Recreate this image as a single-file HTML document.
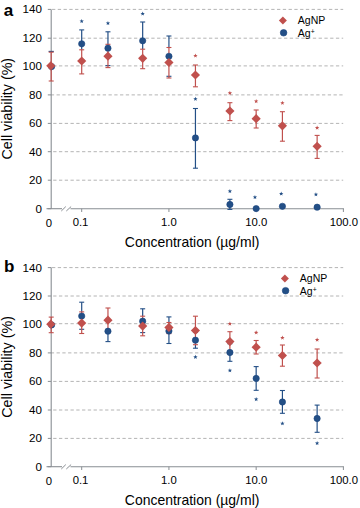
<!DOCTYPE html>
<html><head><meta charset="utf-8"><style>
html,body{margin:0;padding:0;background:#fff;}
svg{display:block;}
text{font-family:"Liberation Sans",sans-serif;fill:#000000;}
</style></head><body>
<svg width="360" height="508" viewBox="0 0 360 508">
<rect width="360" height="508" fill="#fff"/>
<line x1="53.2" y1="180.20" x2="343.2" y2="180.20" stroke="#b4b4b4" stroke-width="1" stroke-dasharray="3.3 2.47"/>
<line x1="53.2" y1="151.70" x2="343.2" y2="151.70" stroke="#b4b4b4" stroke-width="1" stroke-dasharray="3.3 2.47"/>
<line x1="53.2" y1="123.40" x2="343.2" y2="123.40" stroke="#b4b4b4" stroke-width="1" stroke-dasharray="3.3 2.47"/>
<line x1="50.8" y1="94.90" x2="343.2" y2="94.90" stroke="#b4b4b4" stroke-width="1" stroke-dasharray="3.3 2.47"/>
<line x1="53.2" y1="65.90" x2="343.2" y2="65.90" stroke="#b4b4b4" stroke-width="1" stroke-dasharray="3.3 2.47"/>
<line x1="53.2" y1="38.20" x2="343.2" y2="38.20" stroke="#b4b4b4" stroke-width="1" stroke-dasharray="3.3 2.47"/>
<line x1="52.0" y1="9.40" x2="343.2" y2="9.40" stroke="#b4b4b4" stroke-width="1" stroke-dasharray="3.3 2.47"/>
<line x1="51.2" y1="9.40" x2="51.2" y2="208.70" stroke="#898e93" stroke-width="1.1"/>
<line x1="47.8" y1="208.70" x2="51.2" y2="208.70" stroke="#898e93" stroke-width="1"/>
<text transform="translate(41.9,212.70) scale(1.055,1)" text-anchor="end" font-size="11">0</text>
<line x1="47.8" y1="180.20" x2="51.2" y2="180.20" stroke="#898e93" stroke-width="1"/>
<text transform="translate(41.9,184.20) scale(1.055,1)" text-anchor="end" font-size="11">20</text>
<line x1="47.8" y1="151.70" x2="51.2" y2="151.70" stroke="#898e93" stroke-width="1"/>
<text transform="translate(41.9,155.70) scale(1.055,1)" text-anchor="end" font-size="11">40</text>
<line x1="47.8" y1="123.40" x2="51.2" y2="123.40" stroke="#898e93" stroke-width="1"/>
<text transform="translate(41.9,127.40) scale(1.055,1)" text-anchor="end" font-size="11">60</text>
<line x1="47.8" y1="94.90" x2="51.2" y2="94.90" stroke="#898e93" stroke-width="1"/>
<text transform="translate(41.9,98.90) scale(1.055,1)" text-anchor="end" font-size="11">80</text>
<line x1="47.8" y1="65.90" x2="51.2" y2="65.90" stroke="#898e93" stroke-width="1"/>
<text transform="translate(41.9,69.90) scale(1.055,1)" text-anchor="end" font-size="11">100</text>
<line x1="47.8" y1="38.20" x2="51.2" y2="38.20" stroke="#898e93" stroke-width="1"/>
<text transform="translate(41.9,42.20) scale(1.055,1)" text-anchor="end" font-size="11">120</text>
<line x1="47.8" y1="9.40" x2="51.2" y2="9.40" stroke="#898e93" stroke-width="1"/>
<text transform="translate(41.9,13.40) scale(1.055,1)" text-anchor="end" font-size="11">140</text>
<line x1="46.5" y1="208.70" x2="62" y2="208.70" stroke="#898e93" stroke-width="1.1"/>
<line x1="70.5" y1="208.70" x2="343.9" y2="208.70" stroke="#898e93" stroke-width="1.1"/>
<line x1="61.3" y1="211.00" x2="65.8" y2="206.60" stroke="#898e93" stroke-width="1"/>
<line x1="66.3" y1="211.00" x2="71.1" y2="206.60" stroke="#898e93" stroke-width="1"/>
<line x1="81.70" y1="208.70" x2="81.70" y2="212.00" stroke="#898e93" stroke-width="1"/>
<text transform="translate(80.50,226.10) scale(1.03,1)" text-anchor="middle" font-size="11">0.1</text>
<line x1="168.93" y1="208.70" x2="168.93" y2="212.00" stroke="#898e93" stroke-width="1"/>
<text transform="translate(168.93,226.10) scale(1.03,1)" text-anchor="middle" font-size="11">1.0</text>
<line x1="256.16" y1="208.70" x2="256.16" y2="212.00" stroke="#898e93" stroke-width="1"/>
<text transform="translate(256.16,226.10) scale(1.03,1)" text-anchor="middle" font-size="11">10.0</text>
<line x1="343.39" y1="208.70" x2="343.39" y2="212.00" stroke="#898e93" stroke-width="1"/>
<text transform="translate(343.89,226.10) scale(1.03,1)" text-anchor="middle" font-size="11">100.0</text>
<text transform="translate(49.00,226.60) scale(1.03,1)" text-anchor="middle" font-size="11">0</text>
<text x="124.8" y="246.60" font-size="14.4" textLength="134.6" lengthAdjust="spacingAndGlyphs">Concentration (µg/ml)</text>
<text transform="translate(11.6,108.70) rotate(-90)" x="0" y="0" text-anchor="middle" font-size="14.3" textLength="101.6" lengthAdjust="spacingAndGlyphs">Cell viability (%)</text>
<text x="3.7" y="15.6" font-size="17" font-weight="bold">a</text>
<polygon points="282.90,16.50 286.90,20.50 282.90,24.50 278.90,20.50" fill="#c0504d"/>
<circle cx="283.60" cy="32.80" r="3.30" fill="#234f86" stroke="#17437e" stroke-width="0.6"/>
<text x="297.80" y="24.00" font-size="10.5">AgNP</text>
<text x="297.80" y="37.30" font-size="10.5">Ag<tspan dy="-3.7" font-size="6.8">+</tspan></text>
<line x1="48.60" y1="51.40" x2="53.80" y2="51.40" stroke="#234f86" stroke-width="1.1"/>
<line x1="81.70" y1="29.90" x2="81.70" y2="49.80" stroke="#234f86" stroke-width="1.2"/><line x1="79.20" y1="29.90" x2="84.20" y2="29.90" stroke="#234f86" stroke-width="1.1"/><line x1="79.20" y1="59.50" x2="84.20" y2="59.50" stroke="#234f86" stroke-width="1.1"/>
<line x1="107.96" y1="31.80" x2="107.96" y2="44.30" stroke="#234f86" stroke-width="1.2"/><line x1="105.46" y1="31.80" x2="110.46" y2="31.80" stroke="#234f86" stroke-width="1.1"/><line x1="105.46" y1="65.60" x2="110.46" y2="65.60" stroke="#234f86" stroke-width="1.1"/>
<line x1="142.67" y1="22.00" x2="142.67" y2="49.20" stroke="#234f86" stroke-width="1.2"/><line x1="140.17" y1="22.00" x2="145.17" y2="22.00" stroke="#234f86" stroke-width="1.1"/><line x1="140.17" y1="59.00" x2="145.17" y2="59.00" stroke="#234f86" stroke-width="1.1"/>
<line x1="168.93" y1="36.00" x2="168.93" y2="47.50" stroke="#234f86" stroke-width="1.2"/><line x1="166.43" y1="36.00" x2="171.43" y2="36.00" stroke="#234f86" stroke-width="1.1"/><line x1="166.43" y1="76.30" x2="171.43" y2="76.30" stroke="#234f86" stroke-width="1.1"/>
<line x1="195.44" y1="108.50" x2="195.44" y2="168.20" stroke="#234f86" stroke-width="1.2"/><line x1="192.94" y1="108.50" x2="197.94" y2="108.50" stroke="#234f86" stroke-width="1.1"/><line x1="192.94" y1="168.20" x2="197.94" y2="168.20" stroke="#234f86" stroke-width="1.1"/>
<line x1="229.90" y1="199.30" x2="229.90" y2="209.40" stroke="#234f86" stroke-width="1.2"/><line x1="227.40" y1="199.30" x2="232.40" y2="199.30" stroke="#234f86" stroke-width="1.1"/><line x1="227.40" y1="209.40" x2="232.40" y2="209.40" stroke="#234f86" stroke-width="1.1"/>
<line x1="51.20" y1="52.20" x2="51.20" y2="81.00" stroke="#c0504d" stroke-width="1.2"/><line x1="48.70" y1="52.20" x2="53.70" y2="52.20" stroke="#c0504d" stroke-width="1.1"/><line x1="48.70" y1="81.00" x2="53.70" y2="81.00" stroke="#c0504d" stroke-width="1.1"/>
<line x1="81.70" y1="49.80" x2="81.70" y2="73.90" stroke="#c0504d" stroke-width="1.2"/><line x1="79.20" y1="49.80" x2="84.20" y2="49.80" stroke="#c0504d" stroke-width="1.1"/><line x1="79.20" y1="73.90" x2="84.20" y2="73.90" stroke="#c0504d" stroke-width="1.1"/>
<line x1="107.96" y1="44.30" x2="107.96" y2="67.60" stroke="#c0504d" stroke-width="1.2"/><line x1="105.46" y1="44.30" x2="110.46" y2="44.30" stroke="#c0504d" stroke-width="1.1"/><line x1="105.46" y1="67.60" x2="110.46" y2="67.60" stroke="#c0504d" stroke-width="1.1"/>
<line x1="142.67" y1="49.20" x2="142.67" y2="68.70" stroke="#c0504d" stroke-width="1.2"/><line x1="140.17" y1="49.20" x2="145.17" y2="49.20" stroke="#c0504d" stroke-width="1.1"/><line x1="140.17" y1="68.70" x2="145.17" y2="68.70" stroke="#c0504d" stroke-width="1.1"/>
<line x1="168.93" y1="47.50" x2="168.93" y2="78.00" stroke="#c0504d" stroke-width="1.2"/><line x1="166.43" y1="47.50" x2="171.43" y2="47.50" stroke="#c0504d" stroke-width="1.1"/><line x1="166.43" y1="78.00" x2="171.43" y2="78.00" stroke="#c0504d" stroke-width="1.1"/>
<line x1="195.44" y1="65.00" x2="195.44" y2="86.80" stroke="#c0504d" stroke-width="1.2"/><line x1="192.94" y1="65.00" x2="197.94" y2="65.00" stroke="#c0504d" stroke-width="1.1"/><line x1="192.94" y1="86.80" x2="197.94" y2="86.80" stroke="#c0504d" stroke-width="1.1"/>
<line x1="229.90" y1="102.70" x2="229.90" y2="120.60" stroke="#c0504d" stroke-width="1.2"/><line x1="227.40" y1="102.70" x2="232.40" y2="102.70" stroke="#c0504d" stroke-width="1.1"/><line x1="227.40" y1="120.60" x2="232.40" y2="120.60" stroke="#c0504d" stroke-width="1.1"/>
<line x1="256.16" y1="110.00" x2="256.16" y2="128.00" stroke="#c0504d" stroke-width="1.2"/><line x1="253.66" y1="110.00" x2="258.66" y2="110.00" stroke="#c0504d" stroke-width="1.1"/><line x1="253.66" y1="128.00" x2="258.66" y2="128.00" stroke="#c0504d" stroke-width="1.1"/>
<line x1="282.42" y1="111.70" x2="282.42" y2="141.20" stroke="#c0504d" stroke-width="1.2"/><line x1="279.92" y1="111.70" x2="284.92" y2="111.70" stroke="#c0504d" stroke-width="1.1"/><line x1="279.92" y1="141.20" x2="284.92" y2="141.20" stroke="#c0504d" stroke-width="1.1"/>
<line x1="317.13" y1="135.40" x2="317.13" y2="158.40" stroke="#c0504d" stroke-width="1.2"/><line x1="314.63" y1="135.40" x2="319.63" y2="135.40" stroke="#c0504d" stroke-width="1.1"/><line x1="314.63" y1="158.40" x2="319.63" y2="158.40" stroke="#c0504d" stroke-width="1.1"/>
<circle cx="51.60" cy="66.60" r="3.15" fill="#234f86" stroke="#17437e" stroke-width="0.6"/>
<circle cx="81.70" cy="43.80" r="3.15" fill="#234f86" stroke="#17437e" stroke-width="0.6"/>
<polygon points="81.70,18.90 82.27,20.42 83.89,20.49 82.62,21.50 83.05,23.06 81.70,22.17 80.35,23.06 80.78,21.50 79.51,20.49 81.13,20.42" fill="#234f86"/>
<circle cx="107.96" cy="48.20" r="3.15" fill="#234f86" stroke="#17437e" stroke-width="0.6"/>
<polygon points="107.96,20.90 108.53,22.42 110.15,22.49 108.88,23.50 109.31,25.06 107.96,24.17 106.61,25.06 107.04,23.50 105.77,22.49 107.39,22.42" fill="#234f86"/>
<circle cx="142.67" cy="40.80" r="3.15" fill="#234f86" stroke="#17437e" stroke-width="0.6"/>
<polygon points="142.67,11.40 143.24,12.92 144.86,12.99 143.59,14.00 144.02,15.56 142.67,14.67 141.32,15.56 141.75,14.00 140.48,12.99 142.10,12.92" fill="#234f86"/>
<circle cx="168.93" cy="56.30" r="3.15" fill="#234f86" stroke="#17437e" stroke-width="0.6"/>
<circle cx="195.44" cy="137.90" r="3.15" fill="#234f86" stroke="#17437e" stroke-width="0.6"/>
<polygon points="195.44,96.70 196.01,98.22 197.63,98.29 196.36,99.30 196.79,100.86 195.44,99.97 194.09,100.86 194.52,99.30 193.25,98.29 194.87,98.22" fill="#234f86"/>
<circle cx="229.90" cy="204.50" r="3.15" fill="#234f86" stroke="#17437e" stroke-width="0.6"/>
<polygon points="229.90,188.90 230.47,190.42 232.09,190.49 230.82,191.50 231.25,193.06 229.90,192.17 228.55,193.06 228.98,191.50 227.71,190.49 229.33,190.42" fill="#234f86"/>
<circle cx="256.16" cy="208.60" r="3.15" fill="#234f86" stroke="#17437e" stroke-width="0.6"/>
<polygon points="254.96,194.90 255.53,196.42 257.15,196.49 255.88,197.50 256.31,199.06 254.96,198.17 253.61,199.06 254.04,197.50 252.77,196.49 254.39,196.42" fill="#234f86"/>
<circle cx="282.42" cy="206.30" r="3.15" fill="#234f86" stroke="#17437e" stroke-width="0.6"/>
<polygon points="281.22,191.40 281.79,192.92 283.41,192.99 282.14,194.00 282.57,195.56 281.22,194.67 279.87,195.56 280.30,194.00 279.03,192.99 280.65,192.92" fill="#234f86"/>
<circle cx="317.13" cy="207.20" r="3.15" fill="#234f86" stroke="#17437e" stroke-width="0.6"/>
<polygon points="315.93,192.20 316.50,193.72 318.12,193.79 316.85,194.80 317.28,196.36 315.93,195.47 314.58,196.36 315.01,194.80 313.74,193.79 315.36,193.72" fill="#234f86"/>
<polygon points="50.80,61.20 55.40,65.80 50.80,70.40 46.20,65.80" fill="#c0504d"/>
<polygon points="81.70,56.40 86.30,61.00 81.70,65.60 77.10,61.00" fill="#c0504d"/>
<polygon points="107.96,51.60 112.56,56.20 107.96,60.80 103.36,56.20" fill="#c0504d"/>
<polygon points="142.67,53.70 147.27,58.30 142.67,62.90 138.07,58.30" fill="#c0504d"/>
<polygon points="168.93,57.90 173.53,62.50 168.93,67.10 164.33,62.50" fill="#c0504d"/>
<polygon points="195.44,70.40 200.04,75.00 195.44,79.60 190.84,75.00" fill="#c0504d"/>
<polygon points="195.44,53.40 196.01,54.92 197.63,54.99 196.36,56.00 196.79,57.56 195.44,56.67 194.09,57.56 194.52,56.00 193.25,54.99 194.87,54.92" fill="#c0504d"/>
<polygon points="229.90,106.40 234.50,111.00 229.90,115.60 225.30,111.00" fill="#c0504d"/>
<polygon points="229.90,90.80 230.47,92.32 232.09,92.39 230.82,93.40 231.25,94.96 229.90,94.07 228.55,94.96 228.98,93.40 227.71,92.39 229.33,92.32" fill="#c0504d"/>
<polygon points="256.16,114.10 260.76,118.70 256.16,123.30 251.56,118.70" fill="#c0504d"/>
<polygon points="256.16,99.00 256.73,100.52 258.35,100.59 257.08,101.60 257.51,103.16 256.16,102.27 254.81,103.16 255.24,101.60 253.97,100.59 255.59,100.52" fill="#c0504d"/>
<polygon points="282.42,121.20 287.02,125.80 282.42,130.40 277.82,125.80" fill="#c0504d"/>
<polygon points="282.42,100.70 282.99,102.22 284.61,102.29 283.34,103.30 283.77,104.86 282.42,103.97 281.07,104.86 281.50,103.30 280.23,102.29 281.85,102.22" fill="#c0504d"/>
<polygon points="317.13,141.70 321.73,146.30 317.13,150.90 312.53,146.30" fill="#c0504d"/>
<polygon points="317.13,125.60 317.70,127.12 319.32,127.19 318.05,128.20 318.48,129.76 317.13,128.87 315.78,129.76 316.21,128.20 314.94,127.19 316.56,127.12" fill="#c0504d"/>
<line x1="53.2" y1="438.40" x2="343.2" y2="438.40" stroke="#b4b4b4" stroke-width="1" stroke-dasharray="3.3 2.47"/>
<line x1="53.2" y1="410.00" x2="343.2" y2="410.00" stroke="#b4b4b4" stroke-width="1" stroke-dasharray="3.3 2.47"/>
<line x1="53.2" y1="381.40" x2="343.2" y2="381.40" stroke="#b4b4b4" stroke-width="1" stroke-dasharray="3.3 2.47"/>
<line x1="50.8" y1="352.90" x2="343.2" y2="352.90" stroke="#b4b4b4" stroke-width="1" stroke-dasharray="3.3 2.47"/>
<line x1="53.2" y1="323.70" x2="343.2" y2="323.70" stroke="#b4b4b4" stroke-width="1" stroke-dasharray="3.3 2.47"/>
<line x1="53.2" y1="296.00" x2="343.2" y2="296.00" stroke="#b4b4b4" stroke-width="1" stroke-dasharray="3.3 2.47"/>
<line x1="52.0" y1="267.60" x2="343.2" y2="267.60" stroke="#b4b4b4" stroke-width="1" stroke-dasharray="3.3 2.47"/>
<line x1="51.2" y1="267.60" x2="51.2" y2="466.70" stroke="#898e93" stroke-width="1.1"/>
<line x1="47.8" y1="466.70" x2="51.2" y2="466.70" stroke="#898e93" stroke-width="1"/>
<text transform="translate(41.9,470.70) scale(1.055,1)" text-anchor="end" font-size="11">0</text>
<line x1="47.8" y1="438.40" x2="51.2" y2="438.40" stroke="#898e93" stroke-width="1"/>
<text transform="translate(41.9,442.40) scale(1.055,1)" text-anchor="end" font-size="11">20</text>
<line x1="47.8" y1="410.00" x2="51.2" y2="410.00" stroke="#898e93" stroke-width="1"/>
<text transform="translate(41.9,414.00) scale(1.055,1)" text-anchor="end" font-size="11">40</text>
<line x1="47.8" y1="381.40" x2="51.2" y2="381.40" stroke="#898e93" stroke-width="1"/>
<text transform="translate(41.9,385.40) scale(1.055,1)" text-anchor="end" font-size="11">60</text>
<line x1="47.8" y1="352.90" x2="51.2" y2="352.90" stroke="#898e93" stroke-width="1"/>
<text transform="translate(41.9,356.90) scale(1.055,1)" text-anchor="end" font-size="11">80</text>
<line x1="47.8" y1="323.70" x2="51.2" y2="323.70" stroke="#898e93" stroke-width="1"/>
<text transform="translate(41.9,327.70) scale(1.055,1)" text-anchor="end" font-size="11">100</text>
<line x1="47.8" y1="296.00" x2="51.2" y2="296.00" stroke="#898e93" stroke-width="1"/>
<text transform="translate(41.9,300.00) scale(1.055,1)" text-anchor="end" font-size="11">120</text>
<line x1="47.8" y1="267.60" x2="51.2" y2="267.60" stroke="#898e93" stroke-width="1"/>
<text transform="translate(41.9,271.60) scale(1.055,1)" text-anchor="end" font-size="11">140</text>
<line x1="46.5" y1="466.70" x2="62" y2="466.70" stroke="#898e93" stroke-width="1.1"/>
<line x1="70.5" y1="466.70" x2="343.9" y2="466.70" stroke="#898e93" stroke-width="1.1"/>
<line x1="61.3" y1="469.00" x2="65.8" y2="464.60" stroke="#898e93" stroke-width="1"/>
<line x1="66.3" y1="469.00" x2="71.1" y2="464.60" stroke="#898e93" stroke-width="1"/>
<line x1="81.70" y1="466.70" x2="81.70" y2="470.00" stroke="#898e93" stroke-width="1"/>
<text transform="translate(80.50,484.10) scale(1.03,1)" text-anchor="middle" font-size="11">0.1</text>
<line x1="168.93" y1="466.70" x2="168.93" y2="470.00" stroke="#898e93" stroke-width="1"/>
<text transform="translate(168.93,484.10) scale(1.03,1)" text-anchor="middle" font-size="11">1.0</text>
<line x1="256.16" y1="466.70" x2="256.16" y2="470.00" stroke="#898e93" stroke-width="1"/>
<text transform="translate(256.16,484.10) scale(1.03,1)" text-anchor="middle" font-size="11">10.0</text>
<line x1="343.39" y1="466.70" x2="343.39" y2="470.00" stroke="#898e93" stroke-width="1"/>
<text transform="translate(343.89,484.10) scale(1.03,1)" text-anchor="middle" font-size="11">100.0</text>
<text transform="translate(49.00,484.60) scale(1.03,1)" text-anchor="middle" font-size="11">0</text>
<text x="124.8" y="505.00" font-size="14.4" textLength="134.6" lengthAdjust="spacingAndGlyphs">Concentration (µg/ml)</text>
<text transform="translate(11.6,366.90) rotate(-90)" x="0" y="0" text-anchor="middle" font-size="14.3" textLength="101.6" lengthAdjust="spacingAndGlyphs">Cell viability (%)</text>
<text x="4.0" y="271.8" font-size="17" font-weight="bold">b</text>
<polygon points="284.90,274.40 288.90,278.40 284.90,282.40 280.90,278.40" fill="#c0504d"/>
<circle cx="285.60" cy="290.70" r="3.30" fill="#234f86" stroke="#17437e" stroke-width="0.6"/>
<text x="299.80" y="281.90" font-size="10.5">AgNP</text>
<text x="299.80" y="295.20" font-size="10.5">Ag<tspan dy="-3.7" font-size="6.8">+</tspan></text>
<line x1="81.70" y1="302.20" x2="81.70" y2="311.90" stroke="#234f86" stroke-width="1.2"/><line x1="79.20" y1="302.20" x2="84.20" y2="302.20" stroke="#234f86" stroke-width="1.1"/><line x1="79.20" y1="329.30" x2="84.20" y2="329.30" stroke="#234f86" stroke-width="1.1"/>
<line x1="107.96" y1="332.40" x2="107.96" y2="341.60" stroke="#234f86" stroke-width="1.2"/><line x1="105.46" y1="320.80" x2="110.46" y2="320.80" stroke="#234f86" stroke-width="1.1"/><line x1="105.46" y1="341.60" x2="110.46" y2="341.60" stroke="#234f86" stroke-width="1.1"/>
<line x1="142.67" y1="308.80" x2="142.67" y2="316.20" stroke="#234f86" stroke-width="1.2"/><line x1="140.17" y1="308.80" x2="145.17" y2="308.80" stroke="#234f86" stroke-width="1.1"/><line x1="140.17" y1="332.60" x2="145.17" y2="332.60" stroke="#234f86" stroke-width="1.1"/>
<line x1="168.93" y1="316.90" x2="168.93" y2="322.50" stroke="#234f86" stroke-width="1.2"/><line x1="168.93" y1="333.60" x2="168.93" y2="343.50" stroke="#234f86" stroke-width="1.2"/><line x1="166.43" y1="316.90" x2="171.43" y2="316.90" stroke="#234f86" stroke-width="1.1"/><line x1="166.43" y1="343.50" x2="171.43" y2="343.50" stroke="#234f86" stroke-width="1.1"/>
<line x1="195.44" y1="344.70" x2="195.44" y2="348.20" stroke="#234f86" stroke-width="1.2"/><line x1="192.94" y1="332.20" x2="197.94" y2="332.20" stroke="#234f86" stroke-width="1.1"/><line x1="192.94" y1="348.20" x2="197.94" y2="348.20" stroke="#234f86" stroke-width="1.1"/>
<line x1="229.90" y1="351.50" x2="229.90" y2="361.30" stroke="#234f86" stroke-width="1.2"/><line x1="227.40" y1="343.70" x2="232.40" y2="343.70" stroke="#234f86" stroke-width="1.1"/><line x1="227.40" y1="361.30" x2="232.40" y2="361.30" stroke="#234f86" stroke-width="1.1"/>
<line x1="256.16" y1="366.60" x2="256.16" y2="390.30" stroke="#234f86" stroke-width="1.2"/><line x1="253.66" y1="366.60" x2="258.66" y2="366.60" stroke="#234f86" stroke-width="1.1"/><line x1="253.66" y1="390.30" x2="258.66" y2="390.30" stroke="#234f86" stroke-width="1.1"/>
<line x1="282.42" y1="390.50" x2="282.42" y2="413.30" stroke="#234f86" stroke-width="1.2"/><line x1="279.92" y1="390.50" x2="284.92" y2="390.50" stroke="#234f86" stroke-width="1.1"/><line x1="279.92" y1="413.30" x2="284.92" y2="413.30" stroke="#234f86" stroke-width="1.1"/>
<line x1="317.13" y1="405.10" x2="317.13" y2="432.30" stroke="#234f86" stroke-width="1.2"/><line x1="314.63" y1="405.10" x2="319.63" y2="405.10" stroke="#234f86" stroke-width="1.1"/><line x1="314.63" y1="432.30" x2="319.63" y2="432.30" stroke="#234f86" stroke-width="1.1"/>
<line x1="51.20" y1="317.10" x2="51.20" y2="332.70" stroke="#c0504d" stroke-width="1.2"/><line x1="48.70" y1="317.10" x2="53.70" y2="317.10" stroke="#c0504d" stroke-width="1.1"/><line x1="48.70" y1="332.70" x2="53.70" y2="332.70" stroke="#c0504d" stroke-width="1.1"/>
<line x1="81.70" y1="311.90" x2="81.70" y2="333.50" stroke="#c0504d" stroke-width="1.2"/><line x1="79.20" y1="311.90" x2="84.20" y2="311.90" stroke="#c0504d" stroke-width="1.1"/><line x1="79.20" y1="333.50" x2="84.20" y2="333.50" stroke="#c0504d" stroke-width="1.1"/>
<line x1="107.96" y1="308.00" x2="107.96" y2="332.40" stroke="#c0504d" stroke-width="1.2"/><line x1="105.46" y1="308.00" x2="110.46" y2="308.00" stroke="#c0504d" stroke-width="1.1"/><line x1="105.46" y1="332.40" x2="110.46" y2="332.40" stroke="#c0504d" stroke-width="1.1"/>
<line x1="142.67" y1="316.20" x2="142.67" y2="335.80" stroke="#c0504d" stroke-width="1.2"/><line x1="140.17" y1="316.20" x2="145.17" y2="316.20" stroke="#c0504d" stroke-width="1.1"/><line x1="140.17" y1="335.80" x2="145.17" y2="335.80" stroke="#c0504d" stroke-width="1.1"/>
<line x1="168.93" y1="322.50" x2="168.93" y2="333.60" stroke="#c0504d" stroke-width="1.2"/><line x1="166.43" y1="322.50" x2="171.43" y2="322.50" stroke="#c0504d" stroke-width="1.1"/><line x1="166.43" y1="333.60" x2="171.43" y2="333.60" stroke="#c0504d" stroke-width="1.1"/>
<line x1="195.44" y1="316.20" x2="195.44" y2="344.70" stroke="#c0504d" stroke-width="1.2"/><line x1="192.94" y1="316.20" x2="197.94" y2="316.20" stroke="#c0504d" stroke-width="1.1"/><line x1="192.94" y1="344.70" x2="197.94" y2="344.70" stroke="#c0504d" stroke-width="1.1"/>
<line x1="229.90" y1="331.70" x2="229.90" y2="351.50" stroke="#c0504d" stroke-width="1.2"/><line x1="227.40" y1="331.70" x2="232.40" y2="331.70" stroke="#c0504d" stroke-width="1.1"/><line x1="227.40" y1="351.50" x2="232.40" y2="351.50" stroke="#c0504d" stroke-width="1.1"/>
<line x1="256.16" y1="340.50" x2="256.16" y2="354.00" stroke="#c0504d" stroke-width="1.2"/><line x1="253.66" y1="340.50" x2="258.66" y2="340.50" stroke="#c0504d" stroke-width="1.1"/><line x1="253.66" y1="354.00" x2="258.66" y2="354.00" stroke="#c0504d" stroke-width="1.1"/>
<line x1="282.42" y1="345.00" x2="282.42" y2="366.20" stroke="#c0504d" stroke-width="1.2"/><line x1="279.92" y1="345.00" x2="284.92" y2="345.00" stroke="#c0504d" stroke-width="1.1"/><line x1="279.92" y1="366.20" x2="284.92" y2="366.20" stroke="#c0504d" stroke-width="1.1"/>
<line x1="317.13" y1="349.00" x2="317.13" y2="378.00" stroke="#c0504d" stroke-width="1.2"/><line x1="314.63" y1="349.00" x2="319.63" y2="349.00" stroke="#c0504d" stroke-width="1.1"/><line x1="314.63" y1="378.00" x2="319.63" y2="378.00" stroke="#c0504d" stroke-width="1.1"/>
<circle cx="51.60" cy="324.90" r="3.15" fill="#234f86" stroke="#17437e" stroke-width="0.6"/>
<circle cx="81.70" cy="316.10" r="3.15" fill="#234f86" stroke="#17437e" stroke-width="0.6"/>
<circle cx="107.96" cy="331.20" r="3.15" fill="#234f86" stroke="#17437e" stroke-width="0.6"/>
<circle cx="142.67" cy="321.20" r="3.15" fill="#234f86" stroke="#17437e" stroke-width="0.6"/>
<circle cx="168.93" cy="331.00" r="3.15" fill="#234f86" stroke="#17437e" stroke-width="0.6"/>
<circle cx="195.44" cy="340.20" r="3.15" fill="#234f86" stroke="#17437e" stroke-width="0.6"/>
<polygon points="195.44,354.80 196.01,356.32 197.63,356.39 196.36,357.40 196.79,358.96 195.44,358.07 194.09,358.96 194.52,357.40 193.25,356.39 194.87,356.32" fill="#234f86"/>
<circle cx="229.90" cy="352.50" r="3.15" fill="#234f86" stroke="#17437e" stroke-width="0.6"/>
<polygon points="229.90,368.20 230.47,369.72 232.09,369.79 230.82,370.80 231.25,372.36 229.90,371.47 228.55,372.36 228.98,370.80 227.71,369.79 229.33,369.72" fill="#234f86"/>
<circle cx="256.16" cy="378.40" r="3.15" fill="#234f86" stroke="#17437e" stroke-width="0.6"/>
<polygon points="256.16,397.00 256.73,398.52 258.35,398.59 257.08,399.60 257.51,401.16 256.16,400.27 254.81,401.16 255.24,399.60 253.97,398.59 255.59,398.52" fill="#234f86"/>
<circle cx="282.42" cy="402.00" r="3.15" fill="#234f86" stroke="#17437e" stroke-width="0.6"/>
<polygon points="282.42,421.20 282.99,422.72 284.61,422.79 283.34,423.80 283.77,425.36 282.42,424.47 281.07,425.36 281.50,423.80 280.23,422.79 281.85,422.72" fill="#234f86"/>
<circle cx="317.13" cy="418.50" r="3.15" fill="#234f86" stroke="#17437e" stroke-width="0.6"/>
<polygon points="317.13,440.90 317.70,442.42 319.32,442.49 318.05,443.50 318.48,445.06 317.13,444.17 315.78,445.06 316.21,443.50 314.94,442.49 316.56,442.42" fill="#234f86"/>
<polygon points="50.80,319.60 55.40,324.20 50.80,328.80 46.20,324.20" fill="#c0504d"/>
<polygon points="81.70,318.50 86.30,323.10 81.70,327.70 77.10,323.10" fill="#c0504d"/>
<polygon points="107.96,315.60 112.56,320.20 107.96,324.80 103.36,320.20" fill="#c0504d"/>
<polygon points="142.67,321.50 147.27,326.10 142.67,330.70 138.07,326.10" fill="#c0504d"/>
<polygon points="168.93,322.80 173.53,327.40 168.93,332.00 164.33,327.40" fill="#c0504d"/>
<polygon points="195.44,325.90 200.04,330.50 195.44,335.10 190.84,330.50" fill="#c0504d"/>
<polygon points="229.90,337.00 234.50,341.60 229.90,346.20 225.30,341.60" fill="#c0504d"/>
<polygon points="229.90,321.50 230.47,323.02 232.09,323.09 230.82,324.10 231.25,325.66 229.90,324.77 228.55,325.66 228.98,324.10 227.71,323.09 229.33,323.02" fill="#c0504d"/>
<polygon points="256.16,342.60 260.76,347.20 256.16,351.80 251.56,347.20" fill="#c0504d"/>
<polygon points="256.16,330.30 256.73,331.82 258.35,331.89 257.08,332.90 257.51,334.46 256.16,333.57 254.81,334.46 255.24,332.90 253.97,331.89 255.59,331.82" fill="#c0504d"/>
<polygon points="282.42,350.90 287.02,355.50 282.42,360.10 277.82,355.50" fill="#c0504d"/>
<polygon points="282.42,335.60 282.99,337.12 284.61,337.19 283.34,338.20 283.77,339.76 282.42,338.87 281.07,339.76 281.50,338.20 280.23,337.19 281.85,337.12" fill="#c0504d"/>
<polygon points="317.13,358.40 321.73,363.00 317.13,367.60 312.53,363.00" fill="#c0504d"/>
<polygon points="317.13,337.60 317.70,339.12 319.32,339.19 318.05,340.20 318.48,341.76 317.13,340.87 315.78,341.76 316.21,340.20 314.94,339.19 316.56,339.12" fill="#c0504d"/>
</svg>
</body></html>
